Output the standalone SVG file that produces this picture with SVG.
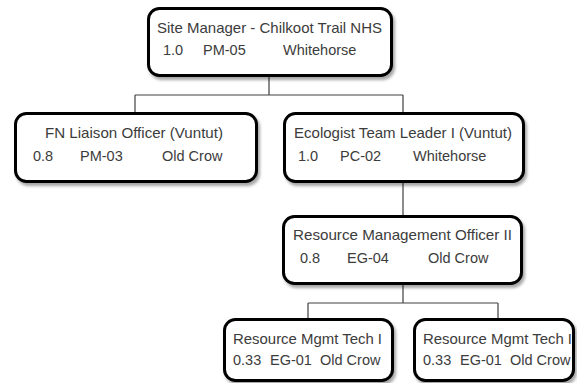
<svg xmlns="http://www.w3.org/2000/svg" width="577" height="383" viewBox="0 0 577 383">
<style>
.box{fill:#fff;stroke:#000;stroke-width:3;filter:url(#sh)}
.t{font-family:"Liberation Sans",Arial,sans-serif;font-size:14.5px;fill:#3c3c3c}
.c{fill:none;stroke:#404040;stroke-width:1.2}
</style>
<defs>
<filter id="sh" x="-10%" y="-10%" width="125%" height="140%">
<feDropShadow dx="2" dy="3" stdDeviation="1.5" flood-color="#000" flood-opacity="0.35"/>
</filter>
</defs>
<rect width="577" height="383" fill="#fff"/>
<g id="connectors">
<path class="c" d="M269,77V95M135,95H403M135,95V112M403,95V112"/>
<path class="c" d="M403,183V215"/>
<path class="c" d="M403,285V303M308,303H498M308,303V318M498,303V318"/>
</g>
<g id="site-manager">
<rect class="box" x="148.5" y="8.5" width="243" height="67" rx="11"/>
<text class="t" x="157" y="33" textLength="225" lengthAdjust="spacingAndGlyphs">Site Manager - Chilkoot Trail NHS</text>
<text class="t" y="55"><tspan x="163">1.0</tspan><tspan x="203">PM-05</tspan><tspan x="283">Whitehorse</tspan></text>
</g>
<g id="fn-liaison">
<rect class="box" x="15.5" y="113.5" width="241" height="68" rx="11"/>
<text class="t" x="45" y="138" textLength="178" lengthAdjust="spacingAndGlyphs">FN Liaison Officer (Vuntut)</text>
<text class="t" y="161"><tspan x="33">0.8</tspan><tspan x="80">PM-03</tspan><tspan x="162">Old Crow</tspan></text>
</g>
<g id="ecologist">
<rect class="box" x="284.5" y="113.5" width="239" height="68" rx="11"/>
<text class="t" x="294" y="138" textLength="218" lengthAdjust="spacingAndGlyphs">Ecologist Team Leader I (Vuntut)</text>
<text class="t" y="161"><tspan x="298">1.0</tspan><tspan x="340">PC-02</tspan><tspan x="413">Whitehorse</tspan></text>
</g>
<g id="rmo">
<rect class="box" x="283.5" y="216.5" width="238" height="67" rx="11"/>
<text class="t" x="293" y="240" textLength="219" lengthAdjust="spacingAndGlyphs">Resource Management Officer II</text>
<text class="t" y="263"><tspan x="300">0.8</tspan><tspan x="347">EG-04</tspan><tspan x="428">Old Crow</tspan></text>
</g>
<g id="tech-1">
<rect class="box" x="224.5" y="319.5" width="168" height="61" rx="11"/>
<text class="t" x="233" y="344" textLength="149" lengthAdjust="spacingAndGlyphs">Resource Mgmt Tech I</text>
<text class="t" y="365"><tspan x="233">0.33</tspan><tspan x="270">EG-01</tspan><tspan x="320">Old Crow</tspan></text>
</g>
<g id="tech-2">
<rect class="box" x="414.5" y="319.5" width="159" height="61" rx="11"/>
<text class="t" x="423" y="344" textLength="149" lengthAdjust="spacingAndGlyphs">Resource Mgmt Tech I</text>
<text class="t" y="365"><tspan x="423">0.33</tspan><tspan x="460">EG-01</tspan><tspan x="510">Old Crow</tspan></text>
</g>
</svg>
